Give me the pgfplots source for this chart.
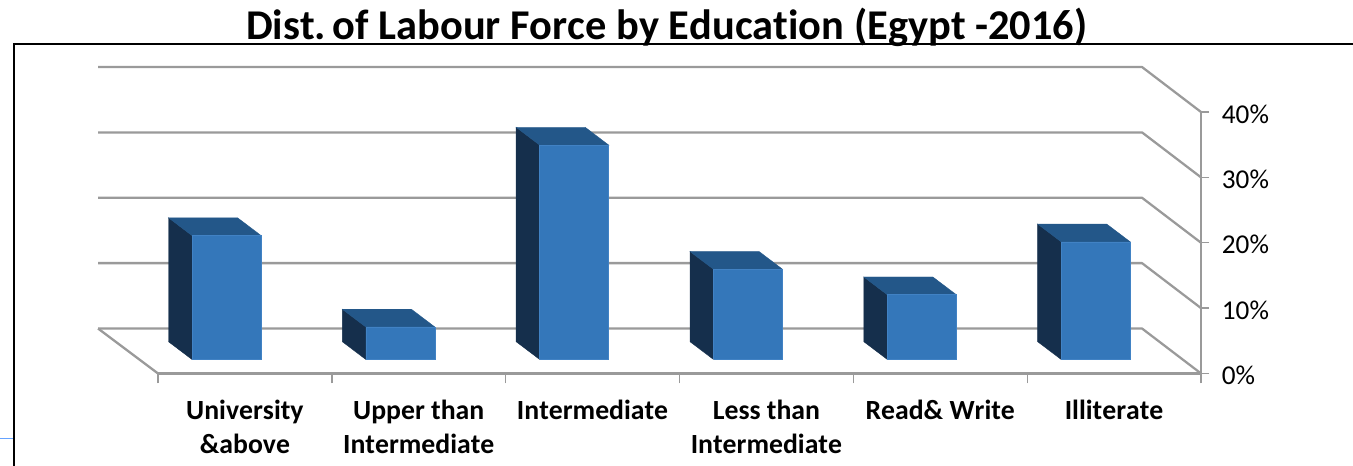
\documentclass[border=0pt]{standalone}
\usepackage{pgfplots}
\pgfplotsset{compat=1.18}
\usepackage{fontspec}
\setmainfont[Ligatures=NoCommon,Kerning=Off]{Carlito}
\definecolor{gridg}{HTML}{9A9A9A}
\definecolor{barfront}{HTML}{3477BA}
\definecolor{bartop}{HTML}{235789}
\definecolor{barside}{HTML}{152F4C}
\definecolor{baredge}{HTML}{4182C4}
% x in category units (173.83 px each), y in percent (6.54 px each)
\def\dpx{-0.345}   % depth of the floor, x
\def\dpy{6.88}      % depth of the floor, y
\newcommand{\gridlevel}[1]{%
  \pgfmathsetmacro\ybk{#1+\dpy}%
  \addplot[gridg,line width=1.7pt,line join=round] coordinates {(\dpx,\ybk) (5.6606,\ybk) (6,#1)};
}
\newcommand{\threedbar}[2]{%
  \pgfmathsetmacro\xa{#1+0.1956}%
  \pgfmathsetmacro\xb{\xa+0.397}%
  \pgfmathsetmacro\xc{\xa-0.1352}%
  \pgfmathsetmacro\xd{\xb-0.1352}%
  \pgfmathsetmacro\yb{2.14}%
  \pgfmathsetmacro\yt{2.14+#2}%
  \pgfmathsetmacro\ybb{\yb+2.72}%
  \pgfmathsetmacro\ytb{\yt+2.72}%
  \addplot[fill=barside,draw=barside,line width=0.3pt] coordinates {(\xa,\yb) (\xa,\yt) (\xc,\ytb) (\xc,\ybb) (\xa,\yb)};
  \addplot[fill=bartop,draw=bartop,line width=0.3pt] coordinates {(\xa,\yt) (\xb,\yt) (\xd,\ytb) (\xc,\ytb) (\xa,\yt)};
  \addplot[fill=barfront,draw=baredge,line width=0.4pt] coordinates {(\xa,\yb) (\xb,\yb) (\xb,\yt) (\xa,\yt) (\xa,\yb)};
}
\begin{document}
\begin{tikzpicture}
\useasboundingbox (0,0) rectangle (1014.75pt,349.5pt);
\draw[black,line width=2pt] (10.5pt,-1pt) -- (10.5pt,316.5pt) -- (1016pt,316.5pt);
\draw[blue!60!cyan!60,line width=0.6pt] (0,20.7pt) -- (9.5pt,20.7pt);
\node[anchor=base,font=\bfseries\fontsize{31.8}{36}\selectfont,inner sep=0pt] at (500pt,319.5pt) {Dist.\kern-2.2pt\ of Labour Force by Education (Egypt -2016)};
\begin{axis}[
  at={(118.5pt,69.4pt)},anchor=origin,
  width=782.25pt,height=196.1pt,scale only axis,
  xmin=0,xmax=6,ymin=0,ymax=40,clip=false,
  axis x line*=bottom,axis y line*=right,
  axis line style={gridg,line width=1.7pt,-},
  xtick={0.5,1.5,2.5,3.5,4.5,5.5},
  xticklabels={University\\\&above,Upper than\\Intermediate,Intermediate,Less than\\Intermediate,Read\& Write,Illiterate},
  minor xtick={0,1,2,3,4,5,6},
  major x tick style={draw=none},
  minor x tick style={gridg,line width=1pt},
  minor tick length=7.5pt,
  ytick={0,10,20,30,40},
  yticklabels={0\%,10\%,20\%,30\%,40\%},
  major y tick style={gridg,line width=1pt},
  major tick length=6pt,
  tick align=outside,
  x tick label style={align=center,font=\bfseries\fontsize{20.8}{25.5}\selectfont,anchor=north,yshift=-13.5pt,inner sep=0pt},
  y tick label style={font=\fontsize{20.4}{24}\selectfont,anchor=west,xshift=9.5pt,yshift=-1.5pt,inner sep=0pt},
  no markers,
]
\gridlevel{0}
\gridlevel{10}
\gridlevel{20}
\gridlevel{30}
\gridlevel{40}
\addplot[gridg,line width=1.7pt] coordinates {(\dpx,\dpy) (0,0)};
\threedbar{0}{18.96}
\threedbar{1}{4.97}
\threedbar{2}{32.8}
\threedbar{3}{13.8}
\threedbar{4}{9.9}
\threedbar{5}{18.0}
\end{axis}
\end{tikzpicture}
\end{document}
